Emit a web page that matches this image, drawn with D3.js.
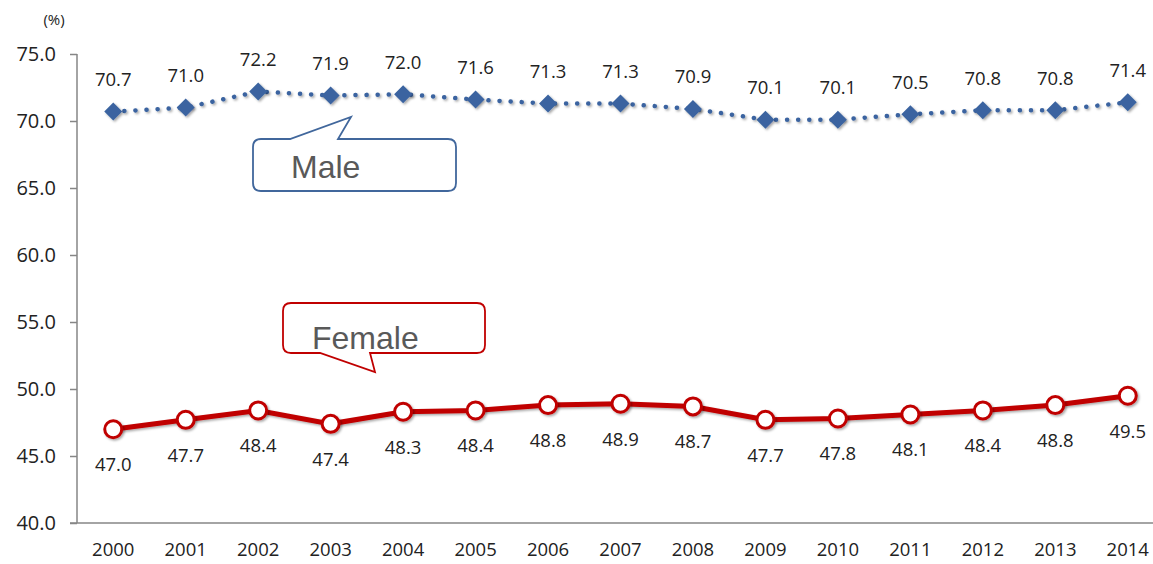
<!DOCTYPE html>
<html>
<head>
<meta charset="utf-8">
<script src="https://cdn.jsdelivr.net/npm/d3@7"></script>
<style>
  html, body { margin: 0; padding: 0; background: #fff; }
  svg { display: block; }
</style>
</head>
<body>
<svg id="chart" width="1153" height="564"></svg>
<script>
const years = ["2000","2001","2002","2003","2004","2005","2006","2007","2008","2009","2010","2011","2012","2013","2014"];
const maleValues = [70.7,71.0,72.2,71.9,72.0,71.6,71.3,71.3,70.9,70.1,70.1,70.5,70.8,70.8,71.4];
const femaleValues = [47.0,47.7,48.4,47.4,48.3,48.4,48.8,48.9,48.7,47.7,47.8,48.1,48.4,48.8,49.5];
const yTicks = [40,45,50,55,60,65,70,75];
const seriesNames = ["Male","Female"];
const unitLabel = "(%)";

(function () {
const svg = d3.select("#chart");
const W = 1153, H = 564;
const mLeft = 77, mRight = 1164, mTop = 54, mBottom = 523;

const x = d3.scaleBand().domain(years).range([mLeft, mRight]).padding(0);
const cx = d => x(d) + x.bandwidth() / 2;
const y = d3.scaleLinear().domain([40, 75]).range([mBottom, mTop]);

const defs = svg.append("defs");
const f = defs.append("filter").attr("id", "shadow").attr("x", "-50%").attr("y", "-50%").attr("width", "200%").attr("height", "200%");
f.append("feDropShadow").attr("dx", 1.5).attr("dy", 1.5).attr("stdDeviation", 1.3).attr("flood-color", "#000").attr("flood-opacity", 0.35);

// Y axis
const yAxis = d3.axisLeft(y).tickValues(yTicks).tickFormat(d3.format(".1f")).tickSize(7).tickPadding(14);
const gy = svg.append("g").attr("transform", `translate(${mLeft},0)`).call(yAxis);
gy.select(".domain").attr("stroke", "#868686").attr("stroke-width", 1.5).attr("d", `M0,${mTop}V${mBottom}`);
gy.selectAll(".tick line").attr("stroke", "#868686").attr("stroke-width", 1.5);
gy.selectAll(".tick text").attr("font-family", "'Open Sans', sans-serif").attr("font-size", 20).attr("fill", "#222");

// X axis
const xAxis = d3.axisBottom(x).tickSize(0).tickPadding(20);
const gx = svg.append("g").attr("transform", `translate(0,${mBottom})`).call(xAxis);
gx.select(".domain").attr("stroke", "#868686").attr("stroke-width", 1.5).attr("d", `M${mLeft - 7},0H${W}`);
gx.selectAll(".tick text").attr("font-family", "'Open Sans', sans-serif").attr("font-size", 18.5).attr("fill", "#222");

// unit label
svg.append("text").attr("x", 54).attr("y", 25).attr("text-anchor", "middle")
  .attr("font-family", "'Open Sans', sans-serif").attr("font-size", 15).attr("fill", "#222").text(unitLabel);

const line = d3.line().x((d, i) => cx(years[i])).y(d => y(d));

// Male series
svg.append("path").datum(maleValues).attr("d", line).attr("fill", "none")
  .attr("stroke", "#3b64a0").attr("stroke-width", 4.5).attr("stroke-linecap", "round")
  .attr("stroke-dasharray", "0.1 11").attr("filter", "url(#shadow)");
svg.append("g").selectAll("path").data(maleValues).join("path")
  .attr("d", "M0,-9L9,0L0,9L-9,0Z")
  .attr("transform", (d, i) => `translate(${cx(years[i])},${y(d)})`)
  .attr("fill", "#3b64a0").attr("filter", "url(#shadow)");
svg.append("g").selectAll("text").data(maleValues).join("text")
  .attr("x", (d, i) => cx(years[i])).attr("y", d => y(d) - 25.5)
  .attr("text-anchor", "middle").attr("font-family", "'Open Sans', sans-serif")
  .attr("font-size", 18.5).attr("fill", "#222").text(d => d3.format(".1f")(d));

// Female series
svg.append("path").datum(femaleValues).attr("d", line).attr("fill", "none")
  .attr("stroke", "#c00000").attr("stroke-width", 5).attr("filter", "url(#shadow)");
svg.append("g").selectAll("circle").data(femaleValues).join("circle")
  .attr("cx", (d, i) => cx(years[i])).attr("cy", d => y(d)).attr("r", 8.5)
  .attr("fill", "#fff").attr("stroke", "#c00000").attr("stroke-width", 3).attr("filter", "url(#shadow)");
svg.append("g").selectAll("text").data(femaleValues).join("text")
  .attr("x", (d, i) => cx(years[i])).attr("y", d => y(d) + 42)
  .attr("text-anchor", "middle").attr("font-family", "'Open Sans', sans-serif")
  .attr("font-size", 18.5).attr("fill", "#222").text(d => d3.format(".1f")(d));

// Callouts
function callout(bx, by, bw, bh, r, tail, color, label, tx, ty) {
  const [b1, tipX, tipY, b2, side] = tail;
  let p;
  if (side === "top") {
    p = `M${bx + r},${by} L${b1},${by} L${tipX},${tipY} L${b2},${by} L${bx + bw - r},${by}
      Q${bx + bw},${by} ${bx + bw},${by + r} L${bx + bw},${by + bh - r} Q${bx + bw},${by + bh} ${bx + bw - r},${by + bh}
      L${bx + r},${by + bh} Q${bx},${by + bh} ${bx},${by + bh - r} L${bx},${by + r} Q${bx},${by} ${bx + r},${by}Z`;
  } else {
    p = `M${bx + r},${by} L${bx + bw - r},${by}
      Q${bx + bw},${by} ${bx + bw},${by + r} L${bx + bw},${by + bh - r} Q${bx + bw},${by + bh} ${bx + bw - r},${by + bh}
      L${b2},${by + bh} L${tipX},${tipY} L${b1},${by + bh}
      L${bx + r},${by + bh} Q${bx},${by + bh} ${bx},${by + bh - r} L${bx},${by + r} Q${bx},${by} ${bx + r},${by}Z`;
  }
  svg.append("path").attr("d", p).attr("fill", "#fff").attr("stroke", color).attr("stroke-width", 1.8);
  svg.append("text").attr("x", tx).attr("y", ty).attr("font-family", "'Liberation Sans', Arial, sans-serif")
    .attr("font-size", 32).attr("fill", "#595959").text(label);
}
callout(253, 139, 203, 52, 8, [290, 351, 117, 338, "top"], "#41679c", seriesNames[0], 291, 178);
callout(283, 303, 202, 50, 8, [320, 375, 372, 370, "bottom"], "#c00000", seriesNames[1], 312, 349);
})();
</script>
</body>
</html>
